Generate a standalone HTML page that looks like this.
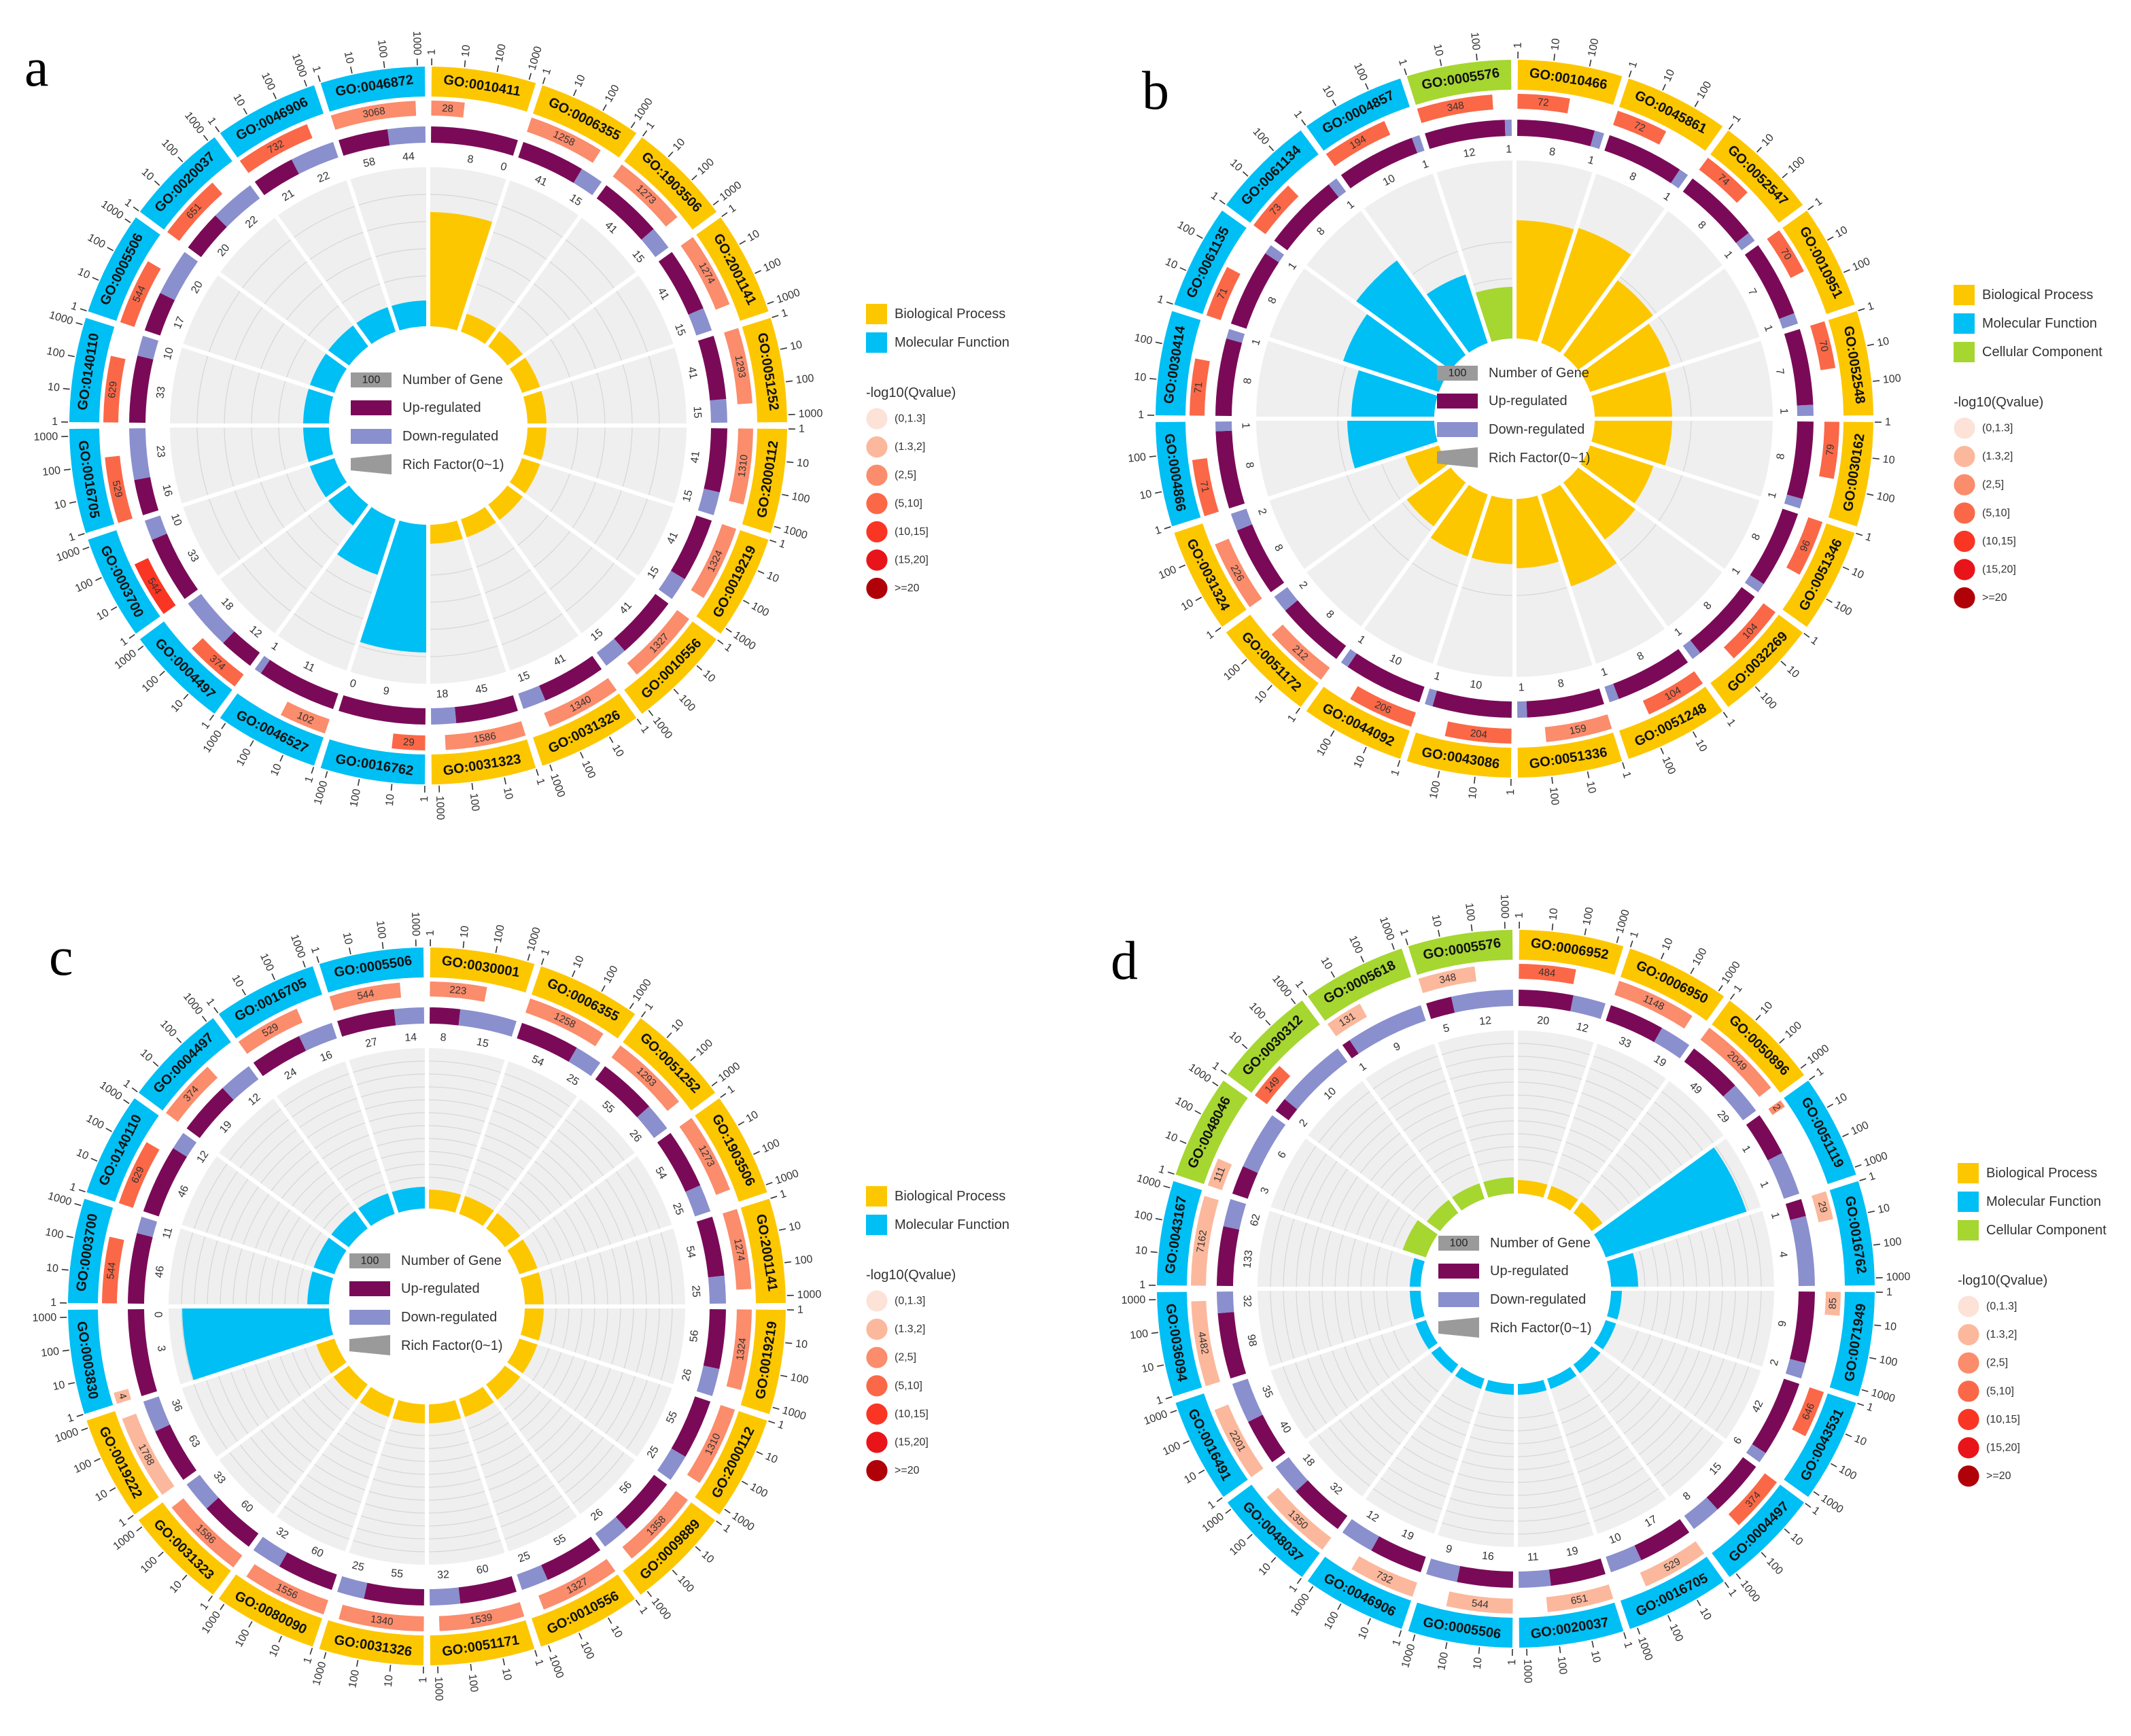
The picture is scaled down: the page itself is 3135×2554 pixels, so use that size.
<!DOCTYPE html>
<html><head><meta charset="utf-8">
<style>
html,body{margin:0;padding:0;background:#fff;}
svg{display:block;font-family:"Liberation Sans",Arial,sans-serif;}
</style></head>
<body>
<svg id="s" xmlns="http://www.w3.org/2000/svg" width="3135" height="2554" viewBox="0 0 1567.5 1277">
<rect width="1567.5" height="1277" fill="#fff"/>
<text x="18" y="63" font-family="Liberation Serif,serif" font-size="40">a</text>
<text x="840" y="80" font-family="Liberation Serif,serif" font-size="40">b</text>
<text x="36" y="717" font-family="Liberation Serif,serif" font-size="40">c</text>
<text x="817" y="720" font-family="Liberation Serif,serif" font-size="40">d</text>
</svg>
<script>
var NS="http://www.w3.org/2000/svg",S=document.getElementById('s');
function el(t,a,txt,p){var e=document.createElementNS(NS,t);for(var k in a)e.setAttribute(k,a[k]);if(txt!==undefined)e.textContent=txt;(p||S).appendChild(e);return e;}
var CAT={Y:'#fdc700',B:'#00bff4',G:'#a6d630'};
var QC=[null,'#fde2d8','#fcb89c','#fb8c6c','#fb6847','#fb3524','#e8141a','#b00008'];
var PUR='#7a0a58',LAV='#8a8fce',GREY='#efefef';
function P(cx,cy,r,a){var t=a*Math.PI/180;return [cx+r*Math.sin(t),cy-r*Math.cos(t)];}
function ann(cx,cy,r1,r2,a1,a2){var L=(a2-a1)>180?1:0;var p1=P(cx,cy,r2,a1),p2=P(cx,cy,r2,a2),p3=P(cx,cy,r1,a2),p4=P(cx,cy,r1,a1);
return 'M'+p1[0].toFixed(2)+','+p1[1].toFixed(2)+'A'+r2+','+r2+' 0 '+L+' 1 '+p2[0].toFixed(2)+','+p2[1].toFixed(2)+'L'+p3[0].toFixed(2)+','+p3[1].toFixed(2)+'A'+r1+','+r1+' 0 '+L+' 0 '+p4[0].toFixed(2)+','+p4[1].toFixed(2)+'Z';}
function ttext(cx,cy,r,a,txt,sz,fill,bold){var p=P(cx,cy,r,a);var rot=a;if(a>90&&a<270)rot=a-180;
var o={x:p[0].toFixed(2),y:p[1].toFixed(2),'font-size':sz,fill:fill,'text-anchor':'middle','dominant-baseline':'central',transform:'rotate('+rot.toFixed(2)+' '+p[0].toFixed(2)+' '+p[1].toFixed(2)+')'};
if(bold)o['font-weight']='bold';el('text',o,txt);}
function panel(cx,cy,data,o){
 var n=data.length,w=360/n,pad=0.55,span=w-2*pad;
 el('circle',{cx:cx,cy:cy,r:(o.r0+190)/2,fill:'none',stroke:GREY,'stroke-width':190-o.r0});
 o.lines.forEach(function(r){el('circle',{cx:cx,cy:cy,r:r,fill:'none',stroke:'#d6d6d6','stroke-width':0.6});});
 data.forEach(function(d,i){
  var a1=i*w,a2=a1+w,s=a1+pad;
  el('path',{d:ann(cx,cy,o.r0,d[7],a1,a2),fill:CAT[d[1]]});
  el('path',{d:ann(cx,cy,242,264,s,a2-pad),fill:CAT[d[1]]});
  ttext(cx,cy,253,a1+w/2,d[0],10,'#111',true);
  var qe=s+span*d[4];
  el('path',{d:ann(cx,cy,228,239,s,qe),fill:QC[d[3]]});
  ttext(cx,cy,233.5,(s+qe)/2,d[2],7.5,'#333');
  var uf=d[5]/(d[5]+d[6]),ue=s+span*uf;
  el('path',{d:ann(cx,cy,208,220,s,ue),fill:PUR});
  if(d[6]>0)el('path',{d:ann(cx,cy,208,220,ue,a2-pad),fill:LAV});
  var ua=(s+ue)/2,da=d[6]>0?(ue+a2-pad)/2:a2-pad-1.2;
  if(d[6]>0&&da-ua<5){ua=Math.min(ua,da-5);}
  ttext(cx,cy,198,ua,String(d[5]),8,'#333');
  ttext(cx,cy,198,da,String(d[6]),8,'#333');
  var labs=o.tmax==3?['1','10','100']:['1','10','100','1000'];
  var st=span*(o.tmax==3?0.34:0.31);
  labs.forEach(function(l,k){var a=s+k*st;var p1=P(cx,cy,265,a),p2=P(cx,cy,270,a);
   el('line',{x1:p1[0],y1:p1[1],x2:p2[0],y2:p2[1],stroke:'#333','stroke-width':0.8});
   var p=P(cx,cy,272.5,a);var rot,anc;if(a<180){rot=a-90;anc='start';}else{rot=a+90;anc='end';}
   el('text',{x:p[0].toFixed(2),y:p[1].toFixed(2),'font-size':8,fill:'#333','text-anchor':anc,'dominant-baseline':'central',transform:'rotate('+rot.toFixed(2)+' '+p[0].toFixed(2)+' '+p[1].toFixed(2)+')'},l);
  });
 });
 for(var i=0;i<n;i++){var p1=P(cx,cy,o.r0-1,i*w),p2=P(cx,cy,191,i*w);el('line',{x1:p1[0],y1:p1[1],x2:p2[0],y2:p2[1],stroke:'#fff','stroke-width':3});}
 el('circle',{cx:cx,cy:cy,r:o.r0,fill:'#fff'});
 var x0=cx-57;
 el('rect',{x:x0,y:cy-39,width:30,height:11,fill:'#9a9a9a'});
 el('text',{x:x0+15,y:cy-33.5,'font-size':8,fill:'#222','text-anchor':'middle','dominant-baseline':'central'},'100');
 el('text',{x:x0+38,y:cy-33.5,'font-size':10,fill:'#333','dominant-baseline':'central'},'Number of Gene');
 el('rect',{x:x0,y:cy-18.5,width:30,height:11,fill:PUR});
 el('text',{x:x0+38,y:cy-13,'font-size':10,fill:'#333','dominant-baseline':'central'},'Up-regulated');
 el('rect',{x:x0,y:cy+2.5,width:30,height:11,fill:LAV});
 el('text',{x:x0+38,y:cy+8,'font-size':10,fill:'#333','dominant-baseline':'central'},'Down-regulated');
 el('polygon',{points:(x0)+','+(cy+24)+' '+(x0+30)+','+(cy+21)+' '+(x0+30)+','+(cy+36)+' '+(x0)+','+(cy+33),fill:'#9a9a9a'});
 el('text',{x:x0+38,y:cy+29,'font-size':10,fill:'#333','dominant-baseline':'central'},'Rich Factor(0~1)');
}
function legend(x,y,cats){
 var names={Y:'Biological Process',B:'Molecular Function',G:'Cellular Component'};
 cats.forEach(function(c,k){var yy=y+k*21;el('rect',{x:x,y:yy-7.5,width:15.5,height:15,fill:CAT[c]});
  el('text',{x:x+21,y:yy,'font-size':10,fill:'#333','dominant-baseline':'central'},names[c]);});
 var y2=y+(cats.length-1)*21+37;
 el('text',{x:x,y:y2,'font-size':10,fill:'#333','dominant-baseline':'central'},'-log10(Qvalue)');
 var ql=['(0,1.3]','(1.3,2]','(2,5]','(5,10]','(10,15]','(15,20]','>=20'];
 ql.forEach(function(l,k){var yy=y2+19+k*20.8;el('circle',{cx:x+8,cy:yy,r:7.8,fill:QC[k+1]});
  el('text',{x:x+21,y:yy,'font-size':8,fill:'#333','dominant-baseline':'central'},l);});
}
var A=[['GO:0010411','Y','28',3,.35,8,0,157],['GO:0006355','Y','1258',3,.8,41,15,87],['GO:1903506','Y','1273',3,.8,41,15,87],['GO:2001141','Y','1274',3,.8,41,15,87],['GO:0051252','Y','1293',3,.8,41,15,87],['GO:2000112','Y','1310',3,.8,41,15,87],['GO:0019219','Y','1324',3,.8,41,15,87],['GO:0010556','Y','1327',3,.8,41,15,87],['GO:0031326','Y','1340',3,.8,41,15,87],['GO:0031323','Y','1586',3,.85,45,18,87],
['GO:0016762','B','29',4,.35,9,0,167],['GO:0046527','B','102',3,.5,11,1,116],['GO:0004497','B','374',4,.6,12,18,92],['GO:0003700','B','544',5,.6,33,10,92],['GO:0016705','B','529',4,.7,16,23,92],['GO:0140110','B','629',4,.7,33,10,92],['GO:0005506','B','544',4,.7,17,20,92],['GO:0020037','B','651',4,.7,20,22,92],['GO:0046906','B','732',4,.8,21,22,92],['GO:0046872','B','3068',3,.9,58,44,92]];
var B=[['GO:0010466','Y','72',4,.55,8,1,146],['GO:0045861','Y','72',4,.55,8,1,148],['GO:0052547','Y','74',4,.55,8,1,127],['GO:0010951','Y','70',4,.5,7,1,121],['GO:0052548','Y','70',4,.5,7,1,116],['GO:0030162','Y','79',4,.6,8,1,116],['GO:0051346','Y','96',4,.6,8,1,108],['GO:0032269','Y','104',4,.65,8,1,111],['GO:0051248','Y','104',4,.65,8,1,130],['GO:0051336','Y','159',3,.7,8,1,110],['GO:0043086','Y','204',4,.7,10,1,107],['GO:0044092','Y','206',4,.7,10,1,107],['GO:0051172','Y','212',3,.7,8,2,99],['GO:0031324','Y','226',3,.75,8,2,85],
['GO:0004866','B','71',4,.6,8,1,123],['GO:0030414','B','71',4,.6,8,1,120],['GO:0061135','B','71',4,.55,8,1,133],['GO:0061134','B','73',4,.55,8,1,145],['GO:0004857','B','194',4,.7,10,1,112],['GO:0005576','G','348',4,.8,12,1,97]];
var C=[['GO:0030001','Y','223',3,.6,8,15,86],['GO:0006355','Y','1258',3,.85,54,25,86],['GO:0051252','Y','1293',3,.85,55,26,86],['GO:1903506','Y','1273',3,.85,54,25,86],['GO:2001141','Y','1274',3,.85,54,25,86],['GO:0019219','Y','1324',3,.85,56,26,86],['GO:2000112','Y','1310',3,.85,55,25,86],['GO:0009889','Y','1358',3,.85,56,26,86],['GO:0010556','Y','1327',3,.85,55,25,86],['GO:0051171','Y','1539',3,.9,60,32,86],['GO:0031326','Y','1340',3,.9,55,25,86],['GO:0080090','Y','1556',3,.9,60,32,86],['GO:0031323','Y','1586',3,.9,60,33,86],['GO:0019222','Y','1788',2,.9,63,36,86],
['GO:0003830','B','4',2,.12,3,0,180],['GO:0003700','B','544',4,.7,46,11,88],['GO:0140110','B','629',4,.7,46,12,88],['GO:0004497','B','374',3,.65,19,12,88],['GO:0016705','B','529',3,.7,24,16,88],['GO:0005506','B','544',3,.75,27,14,88]];
var D=[['GO:0006952','Y','484',4,.6,20,12,80],['GO:0006950','Y','1148',3,.85,33,19,80],['GO:0050896','Y','2049',3,.9,49,29,80],['GO:0051119','B','2',3,.08,1,1,179],['GO:0016762','B','29',2,.3,1,4,90],['GO:0071949','B','85',2,.25,9,2,78],['GO:0043531','B','646',4,.5,42,6,78],['GO:0004497','B','374',4,.6,15,8,78],['GO:0016705','B','529',2,.7,17,10,78],['GO:0020037','B','651',2,.7,19,11,78],['GO:0005506','B','544',2,.7,16,9,78],['GO:0046906','B','732',2,.7,19,12,78],['GO:0048037','B','1350',2,.8,32,18,78],['GO:0016491','B','2201',2,.8,40,35,78],['GO:0036094','B','4482',2,.9,98,32,78],['GO:0043167','B','7162',2,.95,133,62,78],
['GO:0048046','G','111',2,.3,3,6,88],['GO:0030312','G','149',4,.4,2,10,82],['GO:0005618','G','131',2,.4,1,9,82],['GO:0005576','G','348',2,.6,5,12,82]];
var many=[];for(var r=95;r<190;r+=9.5)many.push(r);
panel(315,313,A,{r0:73,lines:[110,130,150,170],tmax:4});
panel(1114,308,B,{r0:59,lines:[103,130],tmax:3});
panel(314,961,C,{r0:72,lines:many,tmax:4});
panel(1115,948,D,{r0:70,lines:many,tmax:4});
legend(637,231,['Y','B']);
legend(1437,217,['Y','B','G']);
legend(637,880,['Y','B']);
legend(1440,863,['Y','B','G']);
</script>
</body></html>
